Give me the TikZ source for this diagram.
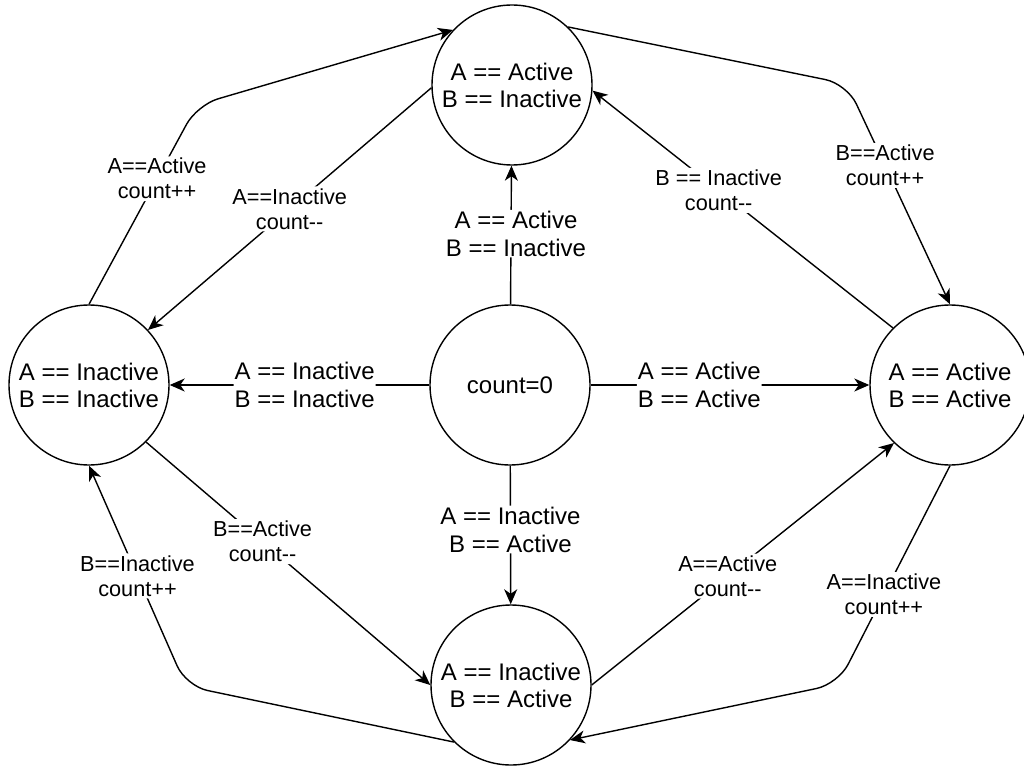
\documentclass[tikz,border=0pt]{standalone}
\usepackage{fontspec}
\setmainfont{Liberation Sans}
\usetikzlibrary{arrows.meta, positioning}
\newcommand{\dec}{-\kern0pt-}

\begin{document}
\begin{tikzpicture}[x=1pt, y=-1pt,
            state/.style={draw, circle, line width=1.4pt, minimum size=160pt, inner sep=0pt, align=center, font=\fontsize{24}{27}\selectfont},
            lbl/.style={fill=white, align=center, inner sep=1pt, font=\fontsize{24}{28}\selectfont},
            cnt/.style={fill=white, align=center, inner sep=2pt, font=\fontsize{21.7}{25}\selectfont},
            trans/.style={-{Stealth[length=15pt, width=13pt, inset=4.5pt]}, line width=1.4pt, rounded corners=22pt}]

            \useasboundingbox (0,0) rectangle (1024,767);

            % states
            \node[state] (zero) at (510,385) {count=0};
            \node[state] (aOnly) at (512,85) {A == Active\\B == Inactive};
            \node[state] (bothIn) at (89,385) {A == Inactive\\B == Inactive};
            \node[state] (bothAct) at (950,385) {A == Active\\B == Active};
            \node[state] (bOnly) at (511,685) {A == Inactive\\B == Active};

            % bends
            \coordinate (kNW) at (197,105);
            \coordinate (kNE) at (847,84);
            \coordinate (kSW) at (186,686);
            \coordinate (kSE) at (838,684);

            % from count=0
            \draw[trans] (zero) -- node[lbl, pos=0.51, xshift=5pt] {A == Active\\B == Inactive} (aOnly);
            \draw[trans] (zero) -- node[lbl, pos=0.48] {A == Inactive\\B == Inactive} (bothIn);
            \draw[trans] (zero) -- node[lbl, pos=0.39] {A == Active\\B == Active} (bothAct);
            \draw[trans] (zero) -- node[lbl, pos=0.46] {A == Inactive\\B == Active} (bOnly);

            % outer ring
            \draw[trans] (bothIn.north) -- node[cnt, pos=0.63] {A==Active\\count++} (kNW) -- (aOnly.137);
            \draw[trans] (aOnly.182) -- node[cnt] {A==Inactive\\count\dec} (bothIn.43);
            \draw[trans] (aOnly.46) -- (kNE) -- node[cnt, pos=0.37] {B==Active\\count++} (bothAct.north);
            \draw[trans] (bothAct.135) -- node[cnt, pos=0.58] {B == Inactive\\count\dec} (aOnly.-4);
            \draw[trans] (bothIn.-45) -- node[cnt, pos=0.41] {B==Active\\count\dec} (bOnly.west);
            \draw[trans] (bOnly.225) -- (kSW) -- node[cnt, pos=0.5] {B==Inactive\\count++} (bothIn.south);
            \draw[trans] (bothAct.south) -- node[cnt, pos=0.59] {A==Inactive\\count++} (kSE) -- (bOnly.-43);
            \draw[trans] (bOnly.east) -- node[cnt, pos=0.45] {A==Active\\count\dec} (bothAct.226);
        \end{tikzpicture}
\end{document}
